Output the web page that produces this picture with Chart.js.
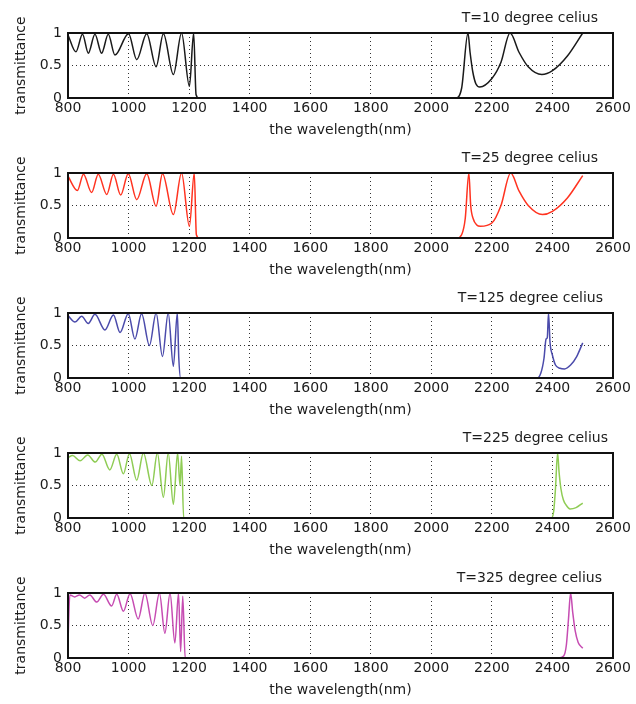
<!DOCTYPE html>
<html>
<head>
<meta charset="utf-8">
<script src="https://cdn.jsdelivr.net/npm/chart.js@4.4.1/dist/chart.umd.min.js"></script>
<style>
  body { margin: 0; background: #fff; }
  .panel { position: absolute; left: 0; width: 636px; height: 140px; }
</style>
</head>
<body>
<div class="panel" style="top:0px"><canvas id="c0" width="636" height="140"></canvas></div>
<div class="panel" style="top:140px"><canvas id="c1" width="636" height="140"></canvas></div>
<div class="panel" style="top:280px"><canvas id="c2" width="636" height="140"></canvas></div>
<div class="panel" style="top:420px"><canvas id="c3" width="636" height="140"></canvas></div>
<div class="panel" style="top:560px"><canvas id="c4" width="636" height="140"></canvas></div>
<script>
// panel titles
const titles = ["T=10 degree celius", "T=25 degree celius", "T=125 degree celius", "T=225 degree celius", "T=325 degree celius"];

// wavelength (nm) / transmittance
const wl10 = [800, 826, 848, 867, 889, 911, 933, 955, 1000, 1027, 1060, 1091, 1115, 1148, 1175, 1201, 1215, 1223, 1232,
              2080, 2100, 2121, 2128, 2137, 2147, 2160, 2200, 2230, 2260, 2290, 2320, 2365, 2400, 2450, 2500];
const tr10 = [0.97, 0.71, 0.98, 0.69, 0.98, 0.69, 0.98, 0.66, 0.99, 0.59, 0.99, 0.48, 0.99, 0.36, 1.0, 0.18, 1.0, 0.05, 0,
              0, 0.15, 1.0, 0.7, 0.4, 0.22, 0.17, 0.3, 0.55, 1.0, 0.7, 0.48, 0.36, 0.42, 0.65, 1.0];

const wl25 = [800, 831, 851, 878, 900, 928, 950, 974, 999, 1027, 1060, 1091, 1112, 1148, 1175, 1201, 1217, 1224, 1233,
              2085, 2100, 2112, 2124, 2130, 2138, 2150, 2162, 2200, 2230, 2262, 2290, 2320, 2367, 2400, 2450, 2500];
const tr25 = [0.95, 0.73, 0.98, 0.70, 0.98, 0.67, 0.98, 0.66, 0.99, 0.59, 0.99, 0.49, 0.99, 0.36, 1.0, 0.18, 1.0, 0.05, 0,
              0, 0.05, 0.3, 1.0, 0.5, 0.3, 0.2, 0.18, 0.23, 0.5, 1.0, 0.72, 0.5, 0.36, 0.41, 0.62, 0.96];

const wl125 = [800, 823, 845, 867, 889, 922, 950, 972, 999, 1021, 1043, 1069, 1091, 1112, 1131, 1148, 1161, 1166, 1172,
               2350, 2362, 2372, 2379, 2383, 2387, 2392, 2400, 2410, 2425, 2440, 2460, 2480, 2500];
const tr125 = [0.96, 0.86, 0.95, 0.84, 0.98, 0.74, 0.97, 0.70, 0.99, 0.60, 0.99, 0.50, 1.0, 0.33, 1.0, 0.18, 1.0, 0.3, 0,
               0, 0.08, 0.3, 0.6, 0.62, 1.0, 0.55, 0.35, 0.2, 0.15, 0.14, 0.2, 0.33, 0.54];

const wl225 = [800, 815, 840, 865, 890, 912, 938, 961, 983, 1003, 1027, 1049, 1077, 1095, 1115, 1131, 1148, 1162, 1170, 1175, 1182,
               2396, 2404, 2410, 2417, 2422, 2428, 2436, 2445, 2458, 2478, 2500];
const tr225 = [0.93, 0.96, 0.88, 0.97, 0.86, 0.98, 0.74, 0.98, 0.68, 0.99, 0.58, 1.0, 0.5, 1.0, 0.32, 1.0, 0.21, 1.0, 0.5, 0.95, 0,
               0, 0.1, 0.45, 1.0, 0.7, 0.45, 0.28, 0.2, 0.14, 0.16, 0.23];

const wl325 = [800, 806, 822, 838, 855, 872, 895, 917, 944, 961, 983, 1005, 1032, 1054, 1080, 1102, 1120, 1137, 1153, 1165, 1172, 1179, 1187,
               2420, 2437, 2446, 2453, 2460, 2467, 2475, 2485, 2500];
const tr325 = [0.25, 0.97, 0.94, 0.97, 0.92, 0.97, 0.86, 0.98, 0.8, 0.98, 0.72, 0.99, 0.6, 1.0, 0.5, 1.0, 0.38, 1.0, 0.23, 1.0, 0.1, 0.95, 0,
               0, 0.03, 0.2, 0.6, 1.0, 0.7, 0.42, 0.24, 0.15];

const FONT = "'DejaVu Sans', sans-serif";
const TEXT = "#1c1c1c";

// frame round the plot and the title at the top right
const framePlugin = {
    id: "frame",
    afterDatasetsDraw(chart, args, opts) {
        const { ctx, chartArea: a } = chart;
        ctx.save();
        ctx.strokeStyle = "#111";
        ctx.lineWidth = 2;
        ctx.strokeRect(a.left, a.top, a.right - a.left, a.bottom - a.top);
        ctx.fillStyle = TEXT;
        ctx.font = "14px " + FONT;
        ctx.textAlign = "right";
        ctx.textBaseline = "alphabetic";
        ctx.fillText(opts.text, opts.x, 22);
        ctx.restore();
    },
};

function drawPanel(id, wl, tr, color, title, titleX) {
    const points = wl.map((x, i) => ({ x: x, y: tr[i] }));
    new Chart(document.getElementById(id).getContext("2d"), {
        type: "line",
        data: {
            datasets: [{
                data: points,
                borderColor: color,
                borderWidth: 1.5,
                pointRadius: 0,
                fill: false,
                cubicInterpolationMode: "monotone",
            }],
        },
        options: {
            responsive: false,
            animation: false,
            layout: { padding: { left: 0, right: 23, top: 33, bottom: 0 } },
            plugins: {
                legend: { display: false },
                tooltip: { enabled: false },
                frame: { text: title, x: titleX },
            },
            scales: {
                x: {
                    type: "linear",
                    min: 800,
                    max: 2600,
                    ticks: {
                        stepSize: 200, autoSkip: false, maxRotation: 0, padding: 2, color: TEXT,
                        font: { family: FONT, size: 14 },
                        callback: (v) => String(v),
                    },
                    grid: { color: "#333", drawTicks: false },
                    border: { display: false, dash: [1, 3] },
                    title: { display: true, text: "the wavelength(nm)", color: TEXT, font: { family: FONT, size: 14 }, padding: { top: 0, bottom: 1 } },
                    afterFit(s) { s.height = 42; },
                },
                y: {
                    min: 0,
                    max: 1,
                    ticks: {
                        stepSize: 0.5, padding: 6, color: TEXT,
                        font: { family: FONT, size: 14 },
                        callback: (v) => String(v),
                    },
                    grid: { color: "#333", drawTicks: false },
                    border: { display: false, dash: [1, 3] },
                    title: { display: true, text: "transmittance", color: TEXT, font: { family: FONT, size: 14 }, padding: { top: 13, bottom: 0 } },
                    afterFit(s) { s.width = 68; },
                },
            },
        },
        plugins: [framePlugin],
    });
}

drawPanel("c0", wl10, tr10, "#1a1a1a", titles[0], 598);
drawPanel("c1", wl25, tr25, "#ff3320", titles[1], 598);
drawPanel("c2", wl125, tr125, "#4b4bab", titles[2], 603);
drawPanel("c3", wl225, tr225, "#8fcc55", titles[3], 608);
drawPanel("c4", wl325, tr325, "#c64cb2", titles[4], 602);
</script>
</body>
</html>
